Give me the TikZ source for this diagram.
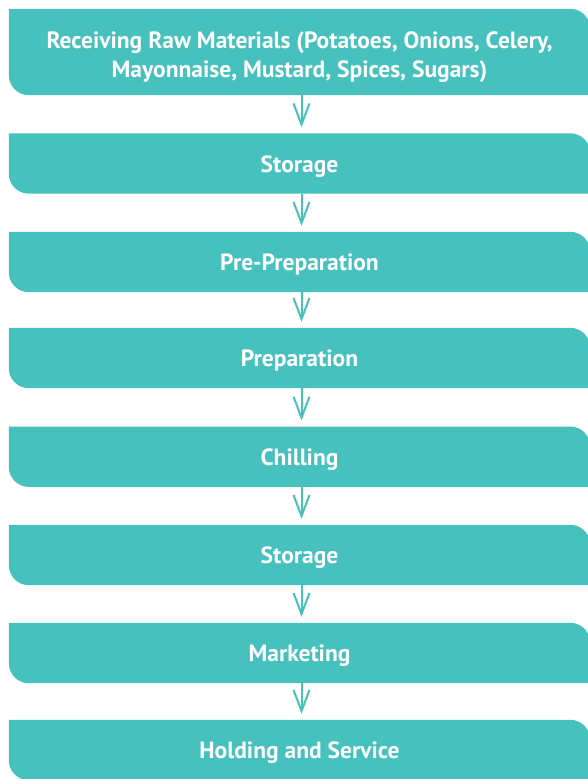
\documentclass[tikz,border=0pt]{standalone}
\usepackage{fontspec}
\setmainfont{PT Sans}
\usetikzlibrary{arrows.meta,backgrounds}
\definecolor{flowteal}{RGB}{71,193,190}
% step panel: square top-left and bottom-right, rounded top-right and bottom-left
\newcommand{\stepshape}[1]{%
  \fill[flowteal] (#1.north west) -- ([xshift=-20pt]#1.north east)
    arc[start angle=90,end angle=0,radius=20pt] -- (#1.south east)
    -- ([xshift=20pt]#1.south west)
    arc[start angle=270,end angle=180,radius=20pt] -- cycle;}
% centred label, set slightly below the optical centre of its panel
\newcommand{\steptext}[2][3pt]{%
  \raisebox{-#1}[\height][\depth]{\begin{tabular}{@{}c@{}}#2\end{tabular}}}
\begin{document}
\begin{tikzpicture}[x=1pt,y=1pt,
  stepbox/.style={minimum width=581pt, minimum height=60pt, inner sep=0pt,
    text=white, font=\bfseries\fontsize{23.5}{29}\selectfont},
  flow/.style={draw=flowteal, line width=2pt,
    -{Straight Barb[length=21pt,width=16pt]}, shorten >=6pt}]
\useasboundingbox (0,0) rectangle (587,-779);

\node[stepbox, minimum height=86pt] (s1) at (299.5,-52)
  {\steptext[5pt]{Receiving Raw Materials (Potatoes, Onions, Celery,\\Mayonnaise, Mustard, Spices, Sugars)}};
\node[stepbox] (s2) at (299.5,-163.5) {\steptext{Storage}};
\node[stepbox] (s3) at (299.5,-262) {\steptext{Pre-Preparation}};
\node[stepbox] (s4) at (299.5,-358) {\steptext{Preparation}};
\node[stepbox] (s5) at (299.5,-456.7) {\steptext{Chilling}};
\node[stepbox] (s6) at (299.5,-555) {\steptext{Storage}};
\node[stepbox] (s7) at (299.5,-653) {\steptext{Marketing}};
\node[stepbox] (s8) at (299.5,-750) {\steptext{Holding and Service}};

\begin{scope}[on background layer]
  \foreach \s in {s1,s2,s3,s4,s5,s6,s7,s8} {\stepshape{\s}}
\end{scope}

\foreach \a/\b in {s1/s2,s2/s3,s3/s4,s4/s5,s5/s6,s6/s7,s7/s8}
  \draw[flow] ([xshift=2pt]\a.south) -- ([xshift=2pt]\b.north);
\end{tikzpicture}
\end{document}
